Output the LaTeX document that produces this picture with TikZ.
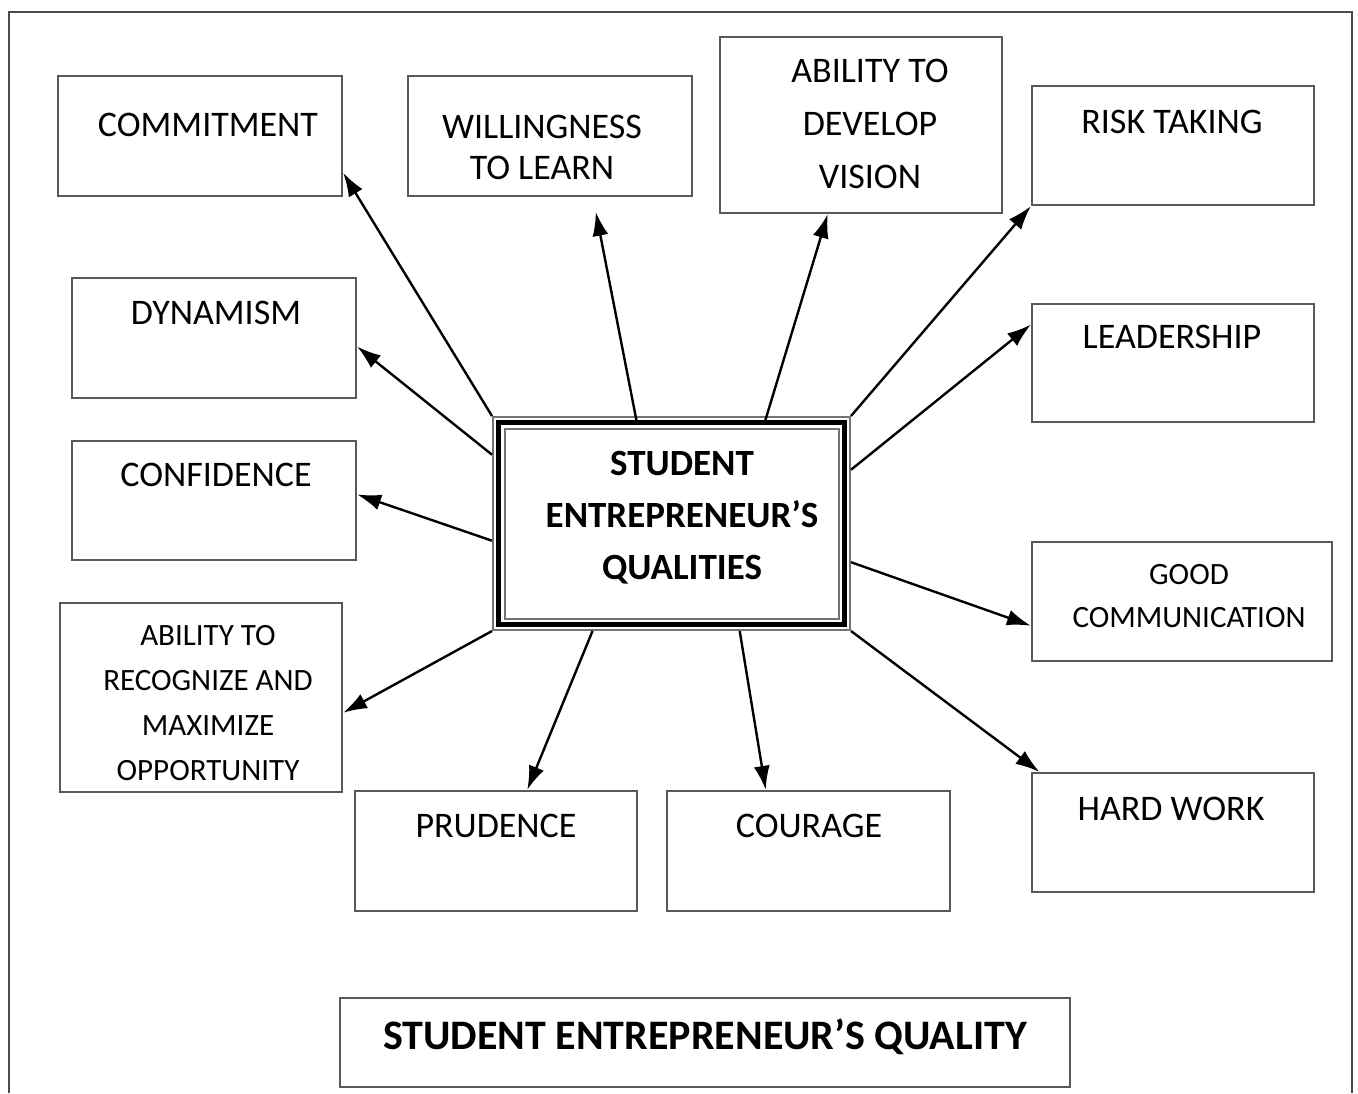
\documentclass[tikz,border=0pt]{standalone}
\usepackage{fontspec}
\setmainfont{Carlito}
\usetikzlibrary{arrows.meta,calc}

\begin{document}
\begin{tikzpicture}[x=1pt,y=-1pt,->,>={Latex[length=24pt,width=16pt]},line width=2.4pt,
	qbox/.style={draw=black!65,line width=2.2pt,minimum width=282,minimum height=120,inner sep=0pt},
	qtext/.style={align=center,inner sep=0pt,font=\fontsize{36}{41}\selectfont},
	qsmall/.style={align=center,inner sep=0pt,font=\fontsize{31}{45}\selectfont}]
	\useasboundingbox (0,0) rectangle (1358,1093);
	\draw[-,black!70,line width=2pt] (9,1093) -- (9,12) -- (1352,12) -- (1352,1093);
	
	% centre box with its triple border
	\node[draw=black!55,line width=2pt,minimum width=357,minimum height=213,inner sep=0pt] (ctr) at (671.5,523.5) {};
	\draw[-,line width=5pt] ([shift={(6.5,6.5)}]ctr.north west) rectangle ([shift={(-6.5,-6.5)}]ctr.south east);
	\draw[-,black!55,line width=2pt] ([shift={(12.5,12.5)}]ctr.north west) rectangle ([shift={(-12.5,-12.5)}]ctr.south east);
	\node[qtext,font=\bfseries\fontsize{37}{52}\selectfont] (ctr-t) at (682,518) {STUDENT\\ENTREPRENEUR’S\\QUALITIES};
	
	% qualities
	\node[qbox,minimum width=284] (commit) at (200,136) {};
	\node[qtext] (commit-t) at (208,125) {COMMITMENT};
	\node[qbox,minimum width=284] (learn) at (550,136) {};
	\node[qtext] (learn-t) at (542,147) {WILLINGNESS\\TO LEARN};
	\node[qbox,minimum height=176] (vision) at (861,125) {};
	\node[qtext,font=\fontsize{36}{53}\selectfont] (vision-t) at (870,124) {ABILITY TO\\DEVELOP\\VISION};
	\node[qbox,minimum height=119] (risk) at (1173,145.5) {};
	\node[qtext] (risk-t) at (1172,122) {RISK TAKING};
	\node[qbox,minimum width=284] (dyn) at (214,338) {};
	\node[qtext] (dyn-t) at (216,313) {DYNAMISM};
	\node[qbox,minimum height=118] (lead) at (1173,363) {};
	\node[qtext] (lead-t) at (1172,337) {LEADERSHIP};
	\node[qbox,minimum width=284,minimum height=119] (conf) at (214,500.5) {};
	\node[qtext] (conf-t) at (216,475) {CONFIDENCE};
	\node[qbox,minimum width=300,minimum height=119] (comm) at (1182,601.5) {};
	\node[qsmall,font=\fontsize{31}{43}\selectfont] (comm-t) at (1189,596) {GOOD\\COMMUNICATION};
	\node[qbox,minimum height=189] (opp) at (201,697.5) {};
	\node[qsmall] (opp-t) at (208,703) {ABILITY TO\\RECOGNIZE AND\\MAXIMIZE\\OPPORTUNITY};
	\node[qbox] (prud) at (496,851) {};
	\node[qtext] (prud-t) at (496,826) {PRUDENCE};
	\node[qbox,minimum width=283] (cour) at (808.5,851) {};
	\node[qtext] (cour-t) at (809,826) {COURAGE};
	\node[qbox,minimum height=119] (hard) at (1173,832.5) {};
	\node[qtext] (hard-t) at (1171,809) {HARD WORK};
	
	% caption
	\node[qbox,minimum width=730,minimum height=89] (title) at (705,1042.5) {};
	\node[qtext,font=\bfseries\fontsize{42}{50}\selectfont] (title-t) at (705,1037) {STUDENT ENTREPRENEUR’S QUALITY};
	
	% arrows out of the centre
	\draw (ctr.north west) -- ($(commit.north east)!0.8!(commit.south east)$);
	\draw[shorten <=-7pt,shorten >=15pt] ($(ctr.north west)!0.4!(ctr.north east)$) -- ($(learn.south west)!0.65!(learn.south east)$);
	\draw[shorten <=-7pt] ($(ctr.north west)!0.765!(ctr.north east)$) -- ($(vision.south west)!0.383!(vision.south east)$);
	\draw (ctr.north east) -- (risk.south west);
	\draw ($(ctr.north west)!0.18!(ctr.south west)$) -- ($(dyn.north east)!0.57!(dyn.south east)$);
	\draw ($(ctr.north east)!0.25!(ctr.south east)$) -- ($(lead.north west)!0.18!(lead.south west)$);
	\draw ($(ctr.north west)!0.58!(ctr.south west)$) -- ($(conf.north east)!0.45!(conf.south east)$);
	\draw ($(ctr.north east)!0.68!(ctr.south east)$) -- ($(comm.north west)!0.7!(comm.south west)$);
	\draw (ctr.south west) -- ($(opp.north east)!0.58!(opp.south east)$);
	\draw ($(ctr.south west)!0.28!(ctr.south east)$) -- ($(prud.north west)!0.61!(prud.north east)$);
	\draw ($(ctr.south west)!0.69!(ctr.south east)$) -- ($(cour.north west)!0.35!(cour.north east)$);
	\draw (ctr.south east) -- ($(hard.north west)!0.03!(hard.north east)$);
\end{tikzpicture}
\end{document}
